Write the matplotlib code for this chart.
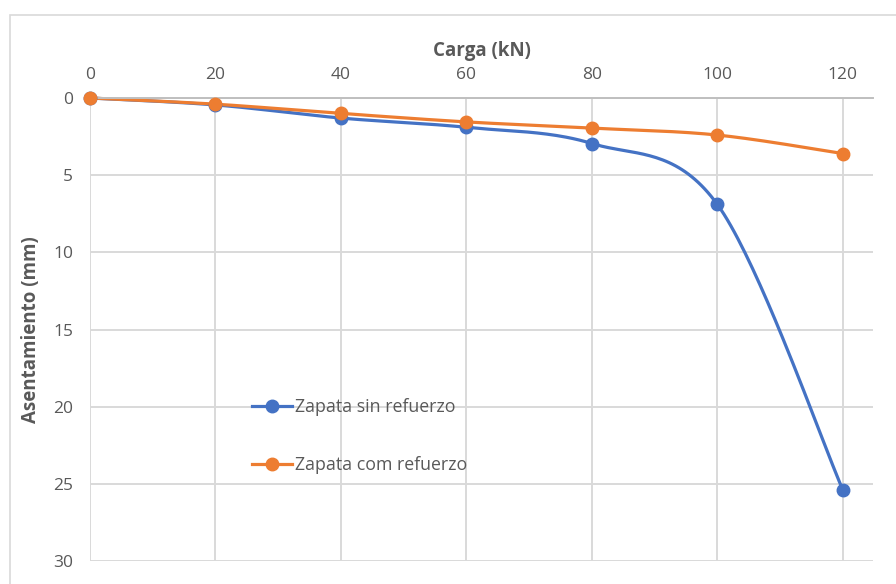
import matplotlib

matplotlib.use("Agg")
import matplotlib.pyplot as plt  # noqa: E402
import numpy as np  # noqa: E402
from matplotlib.patches import Rectangle  # noqa: E402

carga = [0, 20, 40, 60, 80, 100, 120]
sin_refuerzo = [0, 0.45, 1.3, 1.9, 2.95, 6.9, 25.4]
com_refuerzo = [0, 0.4, 1.0, 1.55, 1.95, 2.4, 3.6]
y_ticks = [0, 5, 10, 15, 20, 25, 30]

BLUE = "#4472C4"
ORANGE = "#ED7D31"
TEXT = "#595959"
GRID = "#D9D9D9"

plt.rcParams["font.family"] = ["Open Sans", "DejaVu Sans"]


def smooth(x, y, n=40):
    # Excel-style smoothed line: cubic Bezier with 1/6 Catmull-Rom control points
    p = np.column_stack([x, y]).astype(float)
    out = []
    for i in range(len(p) - 1):
        p0 = p[max(i - 1, 0)]
        p1, p2 = p[i], p[i + 1]
        p3 = p[min(i + 2, len(p) - 1)]
        c1 = p1 + (p2 - p0) / 6
        c2 = p2 - (p3 - p1) / 6
        t = np.linspace(0, 1, n)[:, None]
        seg = ((1 - t) ** 3) * p1 + 3 * ((1 - t) ** 2) * t * c1 + 3 * (1 - t) * t ** 2 * c2 + t ** 3 * p2
        out.append(seg if i == 0 else seg[1:])
    seg = np.vstack(out)
    return seg[:, 0], seg[:, 1]


fig = plt.figure(figsize=(8.96, 5.84), dpi=100)
fig.patches.append(Rectangle((10 / 896, -0.1), 1.0, 1 - 15 / 584 + 0.1,
                             transform=fig.transFigure, fill=False,
                             edgecolor="#D9D9D9", lw=1.2))

ax = fig.add_axes([90 / 896, 1 - 561 / 584, (873 - 90) / 896, (561 - 98) / 584])

for vals, color, label in [(sin_refuerzo, BLUE, "Zapata sin refuerzo"),
                           (com_refuerzo, ORANGE, "Zapata com refuerzo")]:
    sx, sy = smooth(carga, vals)
    ax.plot(sx, sy, color=color, lw=2.3, solid_capstyle="round", clip_on=False)
    ax.plot(carga, vals, "o", color=color, ms=9, clip_on=False, zorder=3)
    ax.plot([], [], "-o", color=color, lw=2.3, ms=9, label=label)

ax.set_xlim(0, 124.8)
ax.set_ylim(30, 0)
ax.set_xticks(carga)
ax.set_yticks(y_ticks)
ax.xaxis.tick_top()
ax.xaxis.set_label_position("top")
ax.grid(True, color=GRID, lw=1.4)
ax.set_axisbelow(True)
for s in ["right", "bottom", "left"]:
    ax.spines[s].set_visible(False)
ax.spines["top"].set_color("#BFBFBF")
ax.spines["top"].set_linewidth(1.4)
ax.tick_params(axis="x", length=0, labelsize=12.5, colors=TEXT, pad=11)
ax.tick_params(axis="y", length=0, labelsize=12.5, colors=TEXT, pad=12)
ax.set_xlabel("Carga (kN)", fontsize=13.5, fontweight="bold", color=TEXT, labelpad=8)
ax.set_ylabel("Asentamiento (mm)", fontsize=13.5, fontweight="bold", color=TEXT, labelpad=9)

ax.legend(loc="upper left", bbox_to_anchor=(0.187, 0.387), frameon=False, fontsize=12.8,
          handlelength=2.2, handletextpad=0.2, labelspacing=2.25, labelcolor=TEXT)

fig.savefig("out.png", dpi=100)
